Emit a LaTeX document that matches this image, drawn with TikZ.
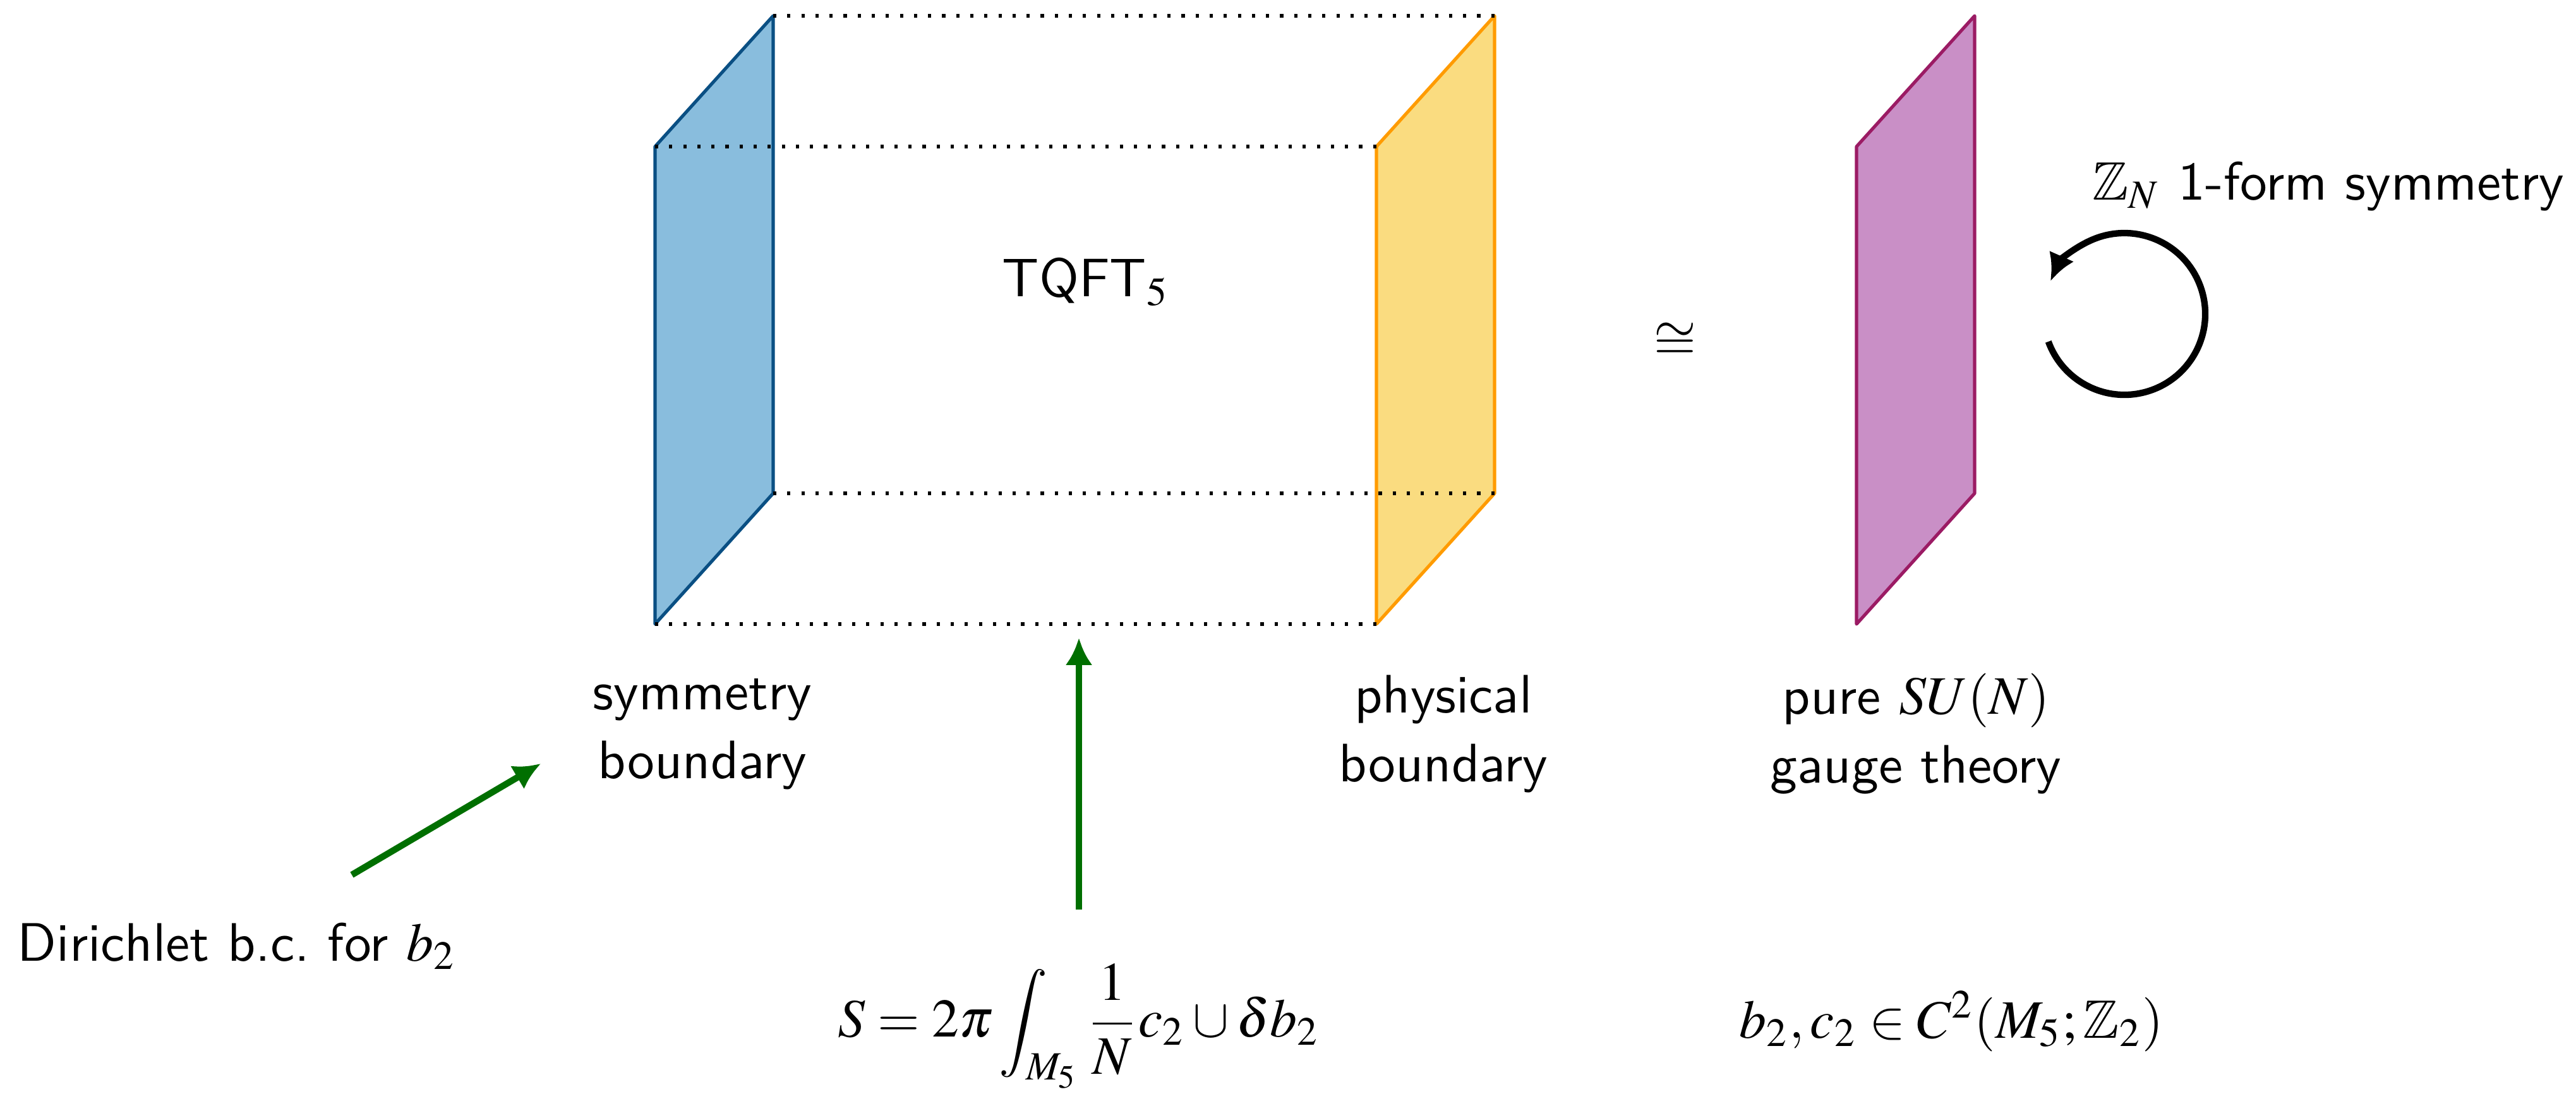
\documentclass[tikz,border=0pt]{standalone}
\usepackage{mathptmx}
\usepackage{amsmath,amssymb}
\usepackage{tikz}
\usetikzlibrary{arrows.meta, positioning}

\definecolor{symfill}{HTML}{89BDDD}
\definecolor{symline}{HTML}{0A4F83}
\definecolor{physfill}{HTML}{FADC80}
\definecolor{physline}{HTML}{FF9B00}
\definecolor{qftfill}{HTML}{C98FC6}
\definecolor{qftline}{HTML}{9B1B64}
\definecolor{dgreen}{HTML}{006F00}

\tikzset{
  plane/.style={line width=0.6pt, line join=round},
  edge/.style={dotted, line width=0.6pt},
  txt/.style={font={\sffamily\fontsize{10}{12.7}\selectfont}, align=center},
  greenarrow/.style={-{Latex[length=5pt,width=5pt]}, line width=1.2pt, draw=dgreen},
  looparrow/.style={-{Latex[length=5pt,width=5pt]}, line width=1.2pt}
}

\begin{document}
\begin{tikzpicture}[x=0.41cm, y=-0.41cm]
  \useasboundingbox (0,0) rectangle (40.78,17.50);

  % planes
  \foreach \n/\f in {sym/10.37, phys/21.79, qft/29.39} {
    \coordinate (\n-ft) at (\f,2.32);
    \coordinate (\n-fb) at (\f,9.88);
    \coordinate (\n-bt) at (\f+1.87,0.25);
    \coordinate (\n-bb) at (\f+1.87,7.81);
    \filldraw[plane, fill=\n fill, draw=\n line]
      (\n-ft) -- (\n-bt) -- (\n-bb) -- (\n-fb) -- cycle;
  }

  % edges of the bulk
  \foreach \p in {ft,fb,bt,bb}
    \draw[edge] (sym-\p) -- (phys-\p);

  % labels
  \node[txt] (tqft) at (17.19,4.46) {TQFT$_5$};
  \node (iso) at (26.52,5.40) {$\cong$};
  \node[txt] (symb) at (11.12,11.62) {symmetry\\boundary};
  \node[txt] (physb) at (22.85,11.62) {physical\\boundary};
  \node[txt] (pure) at (30.33,11.62) {pure $SU(N)$\\gauge theory};
  \node[txt] (zn) at (36.86,2.95) {$\mathbb{Z}_N$ 1-form symmetry};
  \node[txt] (dir) at (3.75,14.98) {Dirichlet b.c.\ for $b_2$};
  \node (act) at (17.08,16.25)
    {$\displaystyle S=2\pi\int_{M_5}\frac{1}{N}c_2\cup\delta b_2$};
  \node (cochain) at (30.89,16.17) {$b_2, c_2\in C^2(M_5;\mathbb{Z}_2)$};

  % arrows
  \coordinate (dtail) at (5.57,13.85);
  \coordinate (dhead) at (8.56,12.09);
  \draw[greenarrow] (dtail) -- (dhead);
  \coordinate (atail) at (17.08,14.40);
  \coordinate (ahead) at (17.08,10.10);
  \draw[greenarrow] (atail) -- (ahead);

  % symmetry action
  \coordinate (loop) at (33.63,4.97);
  \draw[looparrow] (loop) ++(160:1.28) arc (160:-156:1.28);
\end{tikzpicture}
\end{document}
